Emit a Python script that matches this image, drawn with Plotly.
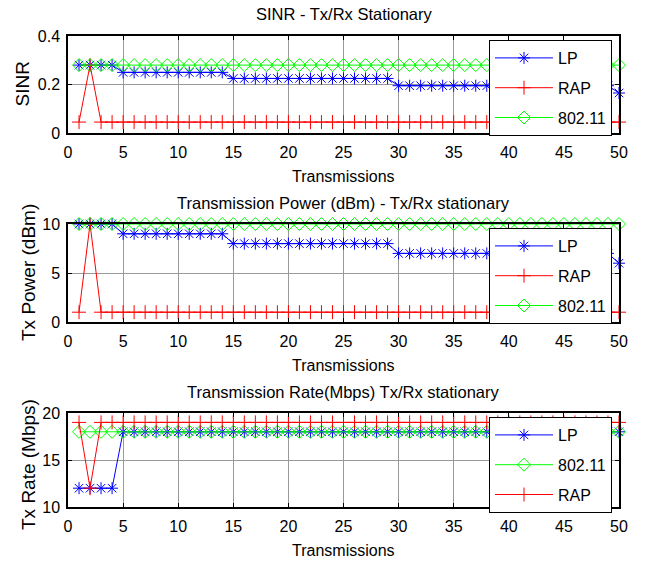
import plotly.graph_objects as go

# ---------------- data ----------------
transmissions = list(range(1, 51))

sinr_lp = [
    0.28, 0.28, 0.28, 0.28, 0.25, 0.25, 0.25, 0.25, 0.25, 0.25,
    0.25, 0.25, 0.25, 0.25, 0.225, 0.225, 0.225, 0.225, 0.225, 0.225,
    0.225, 0.225, 0.225, 0.225, 0.225, 0.225, 0.225, 0.225, 0.225, 0.195,
    0.195, 0.195, 0.195, 0.195, 0.195, 0.195, 0.195, 0.195, 0.195, 0.195,
    0.195, 0.195, 0.195, 0.195, 0.195, 0.195, 0.195, 0.195, 0.195, 0.165,
]
sinr_rap = [
    0.045, 0.28, 0.045, 0.045, 0.045, 0.045, 0.045, 0.045, 0.045, 0.045,
    0.045, 0.045, 0.045, 0.045, 0.045, 0.045, 0.045, 0.045, 0.045, 0.045,
    0.045, 0.045, 0.045, 0.045, 0.045, 0.045, 0.045, 0.045, 0.045, 0.045,
    0.045, 0.045, 0.045, 0.045, 0.045, 0.045, 0.045, 0.045, 0.045, 0.045,
    0.045, 0.045, 0.045, 0.045, 0.045, 0.045, 0.045, 0.045, 0.045, 0.045,
]
sinr_80211 = [
    0.28, 0.28, 0.28, 0.28, 0.28, 0.28, 0.28, 0.28, 0.28, 0.28,
    0.28, 0.28, 0.28, 0.28, 0.28, 0.28, 0.28, 0.28, 0.28, 0.28,
    0.28, 0.28, 0.28, 0.28, 0.28, 0.28, 0.28, 0.28, 0.28, 0.28,
    0.28, 0.28, 0.28, 0.28, 0.28, 0.28, 0.28, 0.28, 0.28, 0.28,
    0.28, 0.28, 0.28, 0.28, 0.28, 0.28, 0.28, 0.28, 0.28, 0.28,
]

power_lp = [
    10, 10, 10, 10, 9, 9, 9, 9, 9, 9,
    9, 9, 9, 9, 8, 8, 8, 8, 8, 8,
    8, 8, 8, 8, 8, 8, 8, 8, 8, 7,
    7, 7, 7, 7, 7, 7, 7, 7, 7, 7,
    7, 7, 7, 7, 7, 7, 7, 7, 7, 6,
]
power_rap = [
    1, 10, 1, 1, 1, 1, 1, 1, 1, 1,
    1, 1, 1, 1, 1, 1, 1, 1, 1, 1,
    1, 1, 1, 1, 1, 1, 1, 1, 1, 1,
    1, 1, 1, 1, 1, 1, 1, 1, 1, 1,
    1, 1, 1, 1, 1, 1, 1, 1, 1, 1,
]
power_80211 = [
    10, 10, 10, 10, 10, 10, 10, 10, 10, 10,
    10, 10, 10, 10, 10, 10, 10, 10, 10, 10,
    10, 10, 10, 10, 10, 10, 10, 10, 10, 10,
    10, 10, 10, 10, 10, 10, 10, 10, 10, 10,
    10, 10, 10, 10, 10, 10, 10, 10, 10, 10,
]

rate_lp = [
    12, 12, 12, 12, 18, 18, 18, 18, 18, 18,
    18, 18, 18, 18, 18, 18, 18, 18, 18, 18,
    18, 18, 18, 18, 18, 18, 18, 18, 18, 18,
    18, 18, 18, 18, 18, 18, 18, 18, 18, 18,
    18, 18, 18, 18, 18, 18, 18, 18, 18, 18,
]
rate_80211 = [
    18, 18, 18, 18, 18, 18, 18, 18, 18, 18,
    18, 18, 18, 18, 18, 18, 18, 18, 18, 18,
    18, 18, 18, 18, 18, 18, 18, 18, 18, 18,
    18, 18, 18, 18, 18, 18, 18, 18, 18, 18,
    18, 18, 18, 18, 18, 18, 18, 18, 18, 18,
]
rate_rap = [
    19, 12, 19, 19, 19, 19, 19, 19, 19, 19,
    19, 19, 19, 19, 19, 19, 19, 19, 19, 19,
    19, 19, 19, 19, 19, 19, 19, 19, 19, 19,
    19, 19, 19, 19, 19, 19, 19, 19, 19, 19,
    19, 19, 19, 19, 19, 19, 19, 19, 19, 19,
]

x_ticks = [0, 5, 10, 15, 20, 25, 30, 35, 40, 45, 50]
sinr_ticks = [0, 0.2, 0.4]
power_ticks = [0, 5, 10]
rate_ticks = [10, 15, 20]

titles = ["SINR - Tx/Rx Stationary",
          "Transmission Power (dBm) - Tx/Rx stationary",
          "Transmission Rate(Mbps) Tx/Rx stationary"]
y_titles = ["SINR", "Tx Power (dBm)", "Tx Rate (Mbps)"]
x_title = "Transmissions"

# ---------------- style ----------------
FONT = "Liberation Sans, Arial, sans-serif"
BLUE, RED, GREEN = "#0000FF", "#FF0000", "#00FF00"

W, H = 656, 563
ML, MR, MT, MB = 68, 37, 36, 56
PW, PH = W - ML - MR, H - MT - MB


def py(p):
    return (H - MB - p) / PH


def px(p):
    return (p - ML) / PW


STY = {
    "LP": dict(color=BLUE, symbol="asterisk-open", size=10),
    "RAP": dict(color=RED, symbol="cross-thin-open", size=10),
    "802.11": dict(color=GREEN, symbol="diamond-open", size=10),
}

fig = go.Figure()


def add(name, y, idx):
    s = STY[name]
    suffix = "" if idx == 1 else str(idx)
    fig.add_trace(go.Scatter(
        x=transmissions, y=y, name=name, mode="lines+markers",
        line=dict(color=s["color"], width=1),
        marker=dict(symbol=s["symbol"], size=s["size"], color=s["color"],
                    line=dict(color=s["color"], width=1)),
        xaxis="x" + suffix, yaxis="y" + suffix,
        legend="legend" + suffix, legendgroup=name + suffix,
        cliponaxis=False,
    ))


add("LP", sinr_lp, 1)
add("RAP", sinr_rap, 1)
add("802.11", sinr_80211, 1)
add("LP", power_lp, 2)
add("RAP", power_rap, 2)
add("802.11", power_80211, 2)
add("LP", rate_lp, 3)
add("802.11", rate_80211, 3)
add("RAP", rate_rap, 3)

# subplot geometry in pixels (top, bottom)
boxes = [(36, 133), (224, 322), (413, 507)]
y_ranges = [[0, 0.4], [0, 10], [10, 20]]
y_tickvals = [sinr_ticks, power_ticks, rate_ticks]

axis_common = dict(
    showline=True, linecolor="black", linewidth=1.5, mirror="ticks",
    ticks="inside", ticklen=4, tickcolor="black", tickwidth=1,
    showgrid=True, gridcolor="#999999", gridwidth=1, zeroline=False,
    tickfont=dict(family=FONT, size=16, color="black"),
)

layout = dict(
    width=W, height=H,
    margin=dict(l=ML, r=MR, t=MT, b=MB, pad=0),
    paper_bgcolor="white", plot_bgcolor="white",
    showlegend=True,
)

annotations = []
for i, (top, bot) in enumerate(boxes):
    k = i + 1
    sx = "" if k == 1 else str(k)
    layout["xaxis" + sx] = dict(
        axis_common, domain=[0, 1], range=[0, 50], tickvals=x_ticks,
        anchor="y" + sx, ticklabelstandoff=4,
    )
    layout["yaxis" + sx] = dict(
        axis_common, domain=[py(bot), py(top)], range=y_ranges[i],
        tickvals=y_tickvals[i], anchor="x" + sx, ticklabelstandoff=3,
    )
    layout["legend" + sx] = dict(
        x=px(489), y=py(top + 4), xanchor="left", yanchor="top",
        bgcolor="white", bordercolor="black", borderwidth=1,
        font=dict(family=FONT, size=16, color="black"),
        itemwidth=58, tracegroupgap=6, traceorder="grouped",
    )
    # subplot title
    annotations.append(dict(
        text=titles[i], x=0.5, y=py(top - 21.5), xref="paper", yref="paper",
        xanchor="center", yanchor="middle", showarrow=False,
        font=dict(family=FONT, size=16.5, color="black"),
    ))
    # x axis title
    annotations.append(dict(
        text=x_title, x=0.5, y=py(bot + 43), xref="paper", yref="paper",
        xanchor="center", yanchor="middle", showarrow=False,
        font=dict(family=FONT, size=16, color="black"),
    ))

y_title_pos = [(22, 84.5), (28, 273), (28, 465)]
for i, (cx, cy) in enumerate(y_title_pos):
    annotations.append(dict(
        text=y_titles[i], x=px(cx), y=py(cy), xref="paper", yref="paper",
        xanchor="center", yanchor="middle", showarrow=False, textangle=-90,
        font=dict(family=FONT, size=19, color="black"),
    ))

layout["annotations"] = annotations
fig.update_layout(**layout)

fig.write_html(
    "out.html",
    config={"displayModeBar": False},
    post_script="document.body.style.margin='0';document.body.style.overflow='hidden';",
)
